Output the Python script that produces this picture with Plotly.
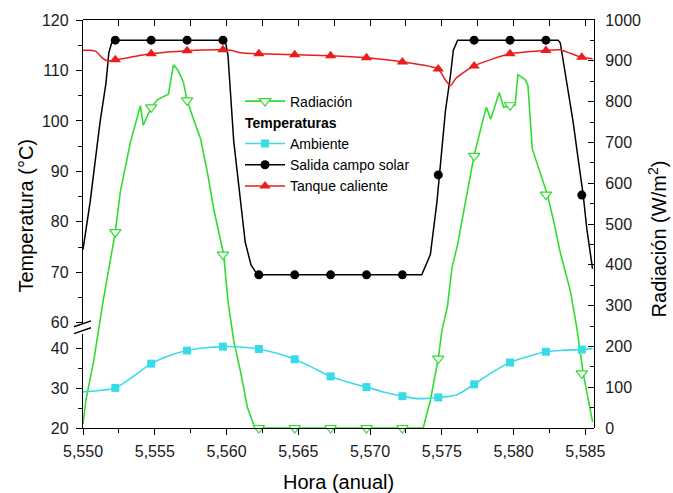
import plotly.graph_objects as go

# ---------------- data ----------------
# hours at which markers are drawn (every 2.5 h)
marker_hours = [5552.25, 5554.75, 5557.25, 5559.75, 5562.25, 5564.75, 5567.25,
                5569.75, 5572.25, 5574.75, 5577.25, 5579.75, 5582.25, 5584.75]

# Salida campo solar (°C)
salida_x = [5550.0, 5550.5, 5551.0, 5551.2, 5551.6, 5551.8, 5552.0, 5552.25, 5559.9,
            5560.1, 5560.5, 5561.0, 5561.3, 5561.7, 5562.15, 5573.6, 5574.2, 5574.66,
            5574.83, 5575.0, 5575.25, 5575.6, 5575.8, 5576.1, 5583.1, 5583.25, 5583.7,
            5584.15, 5584.5, 5584.85, 5585.1, 5585.5]
salida_y = [74.5, 84, 95.5, 100, 107.5, 113.5, 115.5, 116, 116,
            113, 96, 84, 76, 71.5, 69.5, 69.5, 73.5, 84,
            89.2, 95.8, 102, 109, 114, 116, 116, 115.5, 107.5,
            99.7, 92.4, 85.3, 78.6, 70.7]
salida_m = [116, 116, 116, 116, 69.5, 69.5, 69.5, 69.5, 69.5, 89.3, 116, 116, 116, 85.3]

# Tanque caliente (°C)
tanque_x = [5550.0, 5550.5, 5550.9, 5551.3, 5551.7, 5552.25, 5554.75, 5557.25, 5559.75,
            5560.3, 5561.0, 5562.25, 5564.75, 5567.25, 5569.75, 5572.25, 5574.75, 5575.2,
            5575.6, 5576.0, 5577.25, 5579.75, 5582.25, 5583.2, 5584.75, 5585.5]
tanque_y = [114, 114, 113.8, 112.6, 111.9, 112.1, 113.3, 113.9, 114.1,
            114.0, 113.5, 113.3, 113.1, 112.9, 112.5, 111.7, 110.3, 108.3,
            107, 108.5, 110.9, 113.3, 113.95, 114.1, 112.6, 112.3]
tanque_m = [112.1, 113.3, 113.9, 114.1, 113.3, 113.1, 112.9, 112.5, 111.7, 110.3,
            110.9, 113.3, 113.95, 112.6]

# Ambiente (°C)
ambiente_x = [5550.0, 5551.0, 5552.25, 5553.5, 5554.75, 5556.0, 5557.25, 5558.5, 5559.75,
              5561.0, 5562.25, 5563.5, 5564.75, 5566.0, 5567.25, 5568.5, 5569.75, 5571.0,
              5572.25, 5573.3, 5574.75, 5576.0, 5577.25, 5578.5, 5579.75, 5581.0, 5582.25,
              5583.5, 5584.75, 5585.5]
ambiente_y = [29.1, 29.4, 30.1, 33.0, 36.2, 38.2, 39.5, 40.2, 40.5,
              40.4, 39.9, 38.8, 37.3, 35.2, 33.0, 31.5, 30.3, 29.0,
              28.0, 27.4, 27.7, 28.3, 31.0, 34.0, 36.5, 38.0, 39.2,
              39.6, 39.75, 40.0]
ambiente_m = [30.1, 36.2, 39.5, 40.5, 39.9, 37.3, 33.0, 30.3, 28.0, 27.7, 31.0, 36.5,
              39.2, 39.75]

# Radiación (W/m2)
rad_x = [5550.0, 5550.2, 5550.75, 5551.4, 5552.25, 5552.6, 5553.3, 5554.0, 5554.2, 5554.5,
         5554.75, 5555.2, 5555.95, 5556.3, 5556.6, 5557.0, 5557.25, 5557.7, 5558.2, 5558.7,
         5559.1, 5559.6, 5559.8, 5560.1, 5560.5, 5561.0, 5561.45, 5561.9, 5562.1, 5573.7,
         5574.2, 5574.75, 5575.0, 5575.4, 5575.7, 5576.1, 5576.8, 5577.25, 5577.7, 5578.1,
         5578.4, 5579.0, 5579.3, 5579.85, 5580.1, 5580.3, 5580.8, 5581.0, 5581.3, 5581.85,
         5582.35, 5582.8, 5583.25, 5583.95, 5584.4, 5584.85, 5585.2, 5585.5]
rad_y = [10, 68, 165, 311, 480, 579, 700, 790, 742, 766,
         786, 805, 818, 890, 878, 847, 803, 757, 708, 620,
         538, 457, 425, 311, 214, 134, 51, 7, 0, 0,
         68, 170, 238, 300, 392, 450, 579, 669, 732, 786,
         757, 822, 786, 791, 791, 866, 854, 839, 684, 628,
         572, 506, 430, 336, 246, 134, 68, 15]
rad_m = [480, 786, 803, 425, 0, 0, 0, 0, 0, 170, 667, 791, 572, 134]

x_ticks = [5550, 5555, 5560, 5565, 5570, 5575, 5580, 5585]

# ---------------- styling ----------------
GREEN = "#2fdc2f"
CYAN = "#3adbe8"
RED = "#ec1c1c"
BLACK = "#000000"
FONT = "Arial, Liberation Sans, sans-serif"
W, H = 673, 493
L, R, T, B = 83, 79, 17, 65
PW, PH = W - L - R, H - T - B


def px(xp):
    return (xp - L) / PW


def py(yp):
    return (H - B - yp) / PH


up_lo = py(322)
low_hi = py(333)

fig = go.Figure()

# radiation (right axis)
fig.add_trace(go.Scatter(x=rad_x, y=rad_y, mode="lines", line=dict(color=GREEN, width=1.6),
                         xaxis="x", yaxis="y2", showlegend=False, hoverinfo="skip"))
fig.add_trace(go.Scatter(x=marker_hours, y=rad_m, mode="markers", xaxis="x", yaxis="y2",
                         marker=dict(symbol="triangle-down", size=10, color="white",
                                     line=dict(color=GREEN, width=1.2)),
                         showlegend=False, cliponaxis=False))
# ambient (lower temperature axis)
fig.add_trace(go.Scatter(x=ambiente_x, y=ambiente_y, mode="lines",
                         line=dict(color=CYAN, width=1.6, shape="spline", smoothing=0.8),
                         xaxis="x", yaxis="y3", showlegend=False))
fig.add_trace(go.Scatter(x=marker_hours, y=ambiente_m, mode="markers", xaxis="x", yaxis="y3",
                         marker=dict(symbol="square", size=8, color=CYAN),
                         showlegend=False, cliponaxis=False))
# salida campo solar
fig.add_trace(go.Scatter(x=salida_x, y=salida_y, mode="lines", line=dict(color=BLACK, width=1.5),
                         xaxis="x", yaxis="y", showlegend=False))
fig.add_trace(go.Scatter(x=marker_hours, y=salida_m, mode="markers", xaxis="x", yaxis="y",
                         marker=dict(symbol="circle", size=9, color=BLACK),
                         showlegend=False, cliponaxis=False))
# tanque caliente
fig.add_trace(go.Scatter(x=tanque_x, y=tanque_y, mode="lines",
                         line=dict(color=RED, width=1.5, shape="spline", smoothing=0.6),
                         xaxis="x", yaxis="y", showlegend=False))
fig.add_trace(go.Scatter(x=marker_hours, y=tanque_m, mode="markers", xaxis="x", yaxis="y",
                         marker=dict(symbol="triangle-up", size=10, color=RED),
                         showlegend=False, cliponaxis=False))

# legend-only entries
fig.add_trace(go.Scatter(x=[None], y=[None], name="Radiación", mode="lines+markers",
                         legendgroup="rad",
                         line=dict(color=GREEN, width=1.6),
                         marker=dict(symbol="triangle-down", size=10, color="white",
                                     line=dict(color=GREEN, width=1.2))))
fig.add_trace(go.Scatter(x=[None], y=[None], name="Ambiente", mode="lines+markers",
                         legendgroup="temp",
                         legendgrouptitle=dict(text="<b>Temperaturas</b>",
                                               font=dict(size=14, color="black", family=FONT)),
                         line=dict(color=CYAN, width=1.6),
                         marker=dict(symbol="square", size=8, color=CYAN)))
fig.add_trace(go.Scatter(x=[None], y=[None], name="Salida campo solar", mode="lines+markers",
                         legendgroup="temp",
                         line=dict(color=BLACK, width=1.5),
                         marker=dict(symbol="circle", size=9, color=BLACK)))
fig.add_trace(go.Scatter(x=[None], y=[None], name="Tanque caliente", mode="lines+markers",
                         legendgroup="temp",
                         line=dict(color=RED, width=1.5),
                         marker=dict(symbol="triangle-up", size=10, color=RED)))
# dummy for top axis
fig.add_trace(go.Scatter(x=[5550], y=[0], mode="markers", xaxis="x2", yaxis="y2",
                         marker=dict(opacity=0), showlegend=False, hoverinfo="skip"))

tickfont = dict(family=FONT, size=16, color="#1a1a1a")
axcommon = dict(showline=True, linecolor="black", linewidth=1.3, showgrid=False,
                zeroline=False, tickcolor="black", tickwidth=1.2, tickfont=tickfont)

fig.update_layout(
    width=W, height=H,
    margin=dict(l=L, r=R, t=T, b=B, pad=0),
    paper_bgcolor="white", plot_bgcolor="rgba(0,0,0,0)",
    font=dict(family=FONT, color="black"),
    xaxis=dict(domain=[0, 1], range=[5550, 5585.6], anchor="y3", side="bottom",
               tickvals=x_ticks, tickformat=",d", ticks="outside", ticklen=6,
               ticklabelstandoff=3,
               minor=dict(dtick=2.5, tick0=5550, ticks="outside", ticklen=4,
                          tickcolor="black", tickwidth=1.1),
               **axcommon),
    xaxis2=dict(domain=[0, 1], range=[5550, 5585.6], anchor="y2", side="top",
                overlaying="x", showticklabels=False, ticks="inside", ticklen=6,
                dtick=5, tick0=5550,
                minor=dict(dtick=2.5, tick0=5550, ticks="inside", ticklen=6,
                           tickcolor="black", tickwidth=1.1),
                **axcommon),
    yaxis=dict(domain=[up_lo, 1], range=[60, 120], anchor="x", side="left",
               dtick=10, tick0=60, ticks="outside", ticklen=6, ticklabelstandoff=4,
               minor=dict(dtick=5, tick0=60, ticks="outside", ticklen=4,
                          tickcolor="black", tickwidth=1.1),
               **axcommon),
    yaxis3=dict(domain=[0, low_hi], range=[20, 43.75], anchor="x", side="left",
                tickvals=[20, 30, 40], ticks="outside", ticklen=6, ticklabelstandoff=4,
                minor=dict(tickvals=[25, 35], ticks="outside", ticklen=4,
                           tickcolor="black", tickwidth=1.1),
                **axcommon),
    yaxis2=dict(domain=[0, 1], range=[0, 1000], anchor="x", side="right",
                dtick=100, tick0=0, ticks="inside", ticklen=6, ticklabelstandoff=7,
                minor=dict(dtick=50, tick0=0, ticks="inside", ticklen=4,
                           tickcolor="black", tickwidth=1.1),
                **axcommon),
    legend=dict(x=px(240), y=py(83), xanchor="left", yanchor="top",
                bgcolor="rgba(0,0,0,0)", borderwidth=0,
                font=dict(family=FONT, size=14, color="black"),
                traceorder="grouped", tracegroupgap=0, itemwidth=40,
                itemclick=False, itemdoubleclick=False),
    showlegend=True,
)

# axis titles
fig.add_annotation(x=px(338), y=py(482), xref="paper", yref="paper", showarrow=False,
                   xanchor="center", yanchor="middle",
                   text="Hora (anual)", font=dict(family=FONT, size=20, color="black"))
fig.add_annotation(x=px(26), y=py(214), xref="paper", yref="paper", showarrow=False,
                   xanchor="center", yanchor="middle",
                   text="Temperatura (°C)", textangle=-90,
                   font=dict(family=FONT, size=20, color="black"))
fig.add_annotation(x=px(657), y=py(238), xref="paper", yref="paper", showarrow=False,
                   xanchor="center", yanchor="middle",
                   text="Radiación (W/m<sup>2</sup>)", textangle=-90,
                   font=dict(family=FONT, size=20, color="black"))

# axis-break marks
for y0 in (326, 333):
    fig.add_shape(type="line", xref="paper", yref="paper",
                  x0=px(74), y0=py(y0), x1=px(91), y1=py(y0 - 6),
                  line=dict(color="black", width=1.4))

fig.write_html("out.html")
